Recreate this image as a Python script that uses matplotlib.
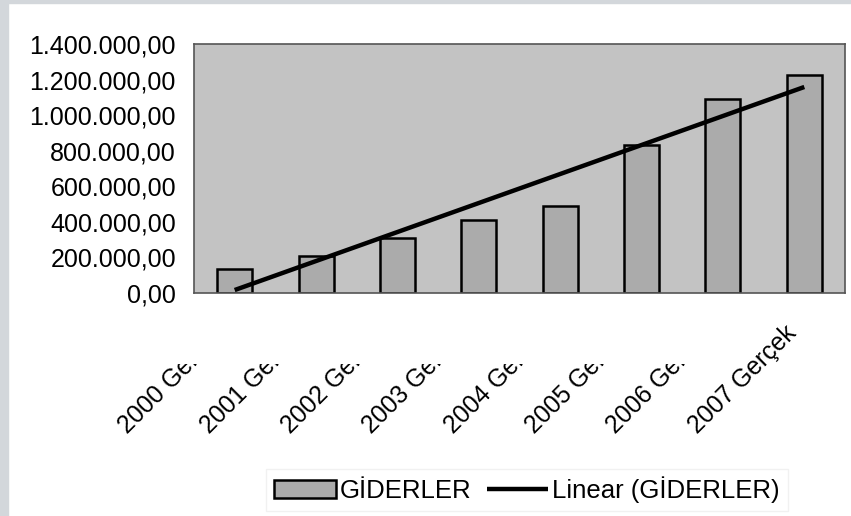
import matplotlib.pyplot as plt
import numpy as np
from matplotlib.patches import Rectangle
from matplotlib.transforms import Bbox, TransformedBbox, ScaledTranslation

plt.rcParams['font.family'] = ['Liberation Sans', 'DejaVu Sans']

categories = ["2000 Gerçek", "2001 Gerçek", "2002 Gerçek", "2003 Gerçek",
              "2004 Gerçek", "2005 Gerçek", "2006 Gerçek", "2007 Gerçek"]
giderler = [135000, 208000, 309000, 410000, 489000, 832000, 1091000, 1226000]
y_ticks = [0, 200000, 400000, 600000, 800000, 1000000, 1200000, 1400000]


def tr_fmt(v):
    s = f"{v:,.2f}"
    return s.replace(",", "X").replace(".", ",").replace("X", ".")


fig = plt.figure(figsize=(8.51, 5.16), dpi=100)
fig.patch.set_facecolor("white")
# light gray frame strip on the left and top edges
fig.add_artist(Rectangle((0, 0), 8 / 851, 1, transform=fig.transFigure,
                         color="#d3d7db", zorder=0))
fig.add_artist(Rectangle((0, 1 - 3 / 516), 1, 3 / 516, transform=fig.transFigure,
                         color="#d3d7db", zorder=0))

ax = fig.add_axes([194 / 851, 1 - 293 / 516, 651 / 851, 249 / 516])
ax.set_facecolor("#c3c3c3")

x = np.arange(len(categories))
bars = ax.bar(x, giderler, width=0.43, color="#ababab", edgecolor="black",
              linewidth=1.8, label="GİDERLER", zorder=2)

# linear trendline (least-squares fit, like the spreadsheet trendline)
coef = np.polyfit(x, giderler, 1)
trend, = ax.plot(x, np.polyval(coef, x), color="black", lw=3.2,
                 label="Linear (GİDERLER)", zorder=3, solid_capstyle="butt")

ax.set_xlim(-0.5, len(categories) - 0.5)
ax.set_ylim(0, 1400000)
ax.set_yticks(y_ticks)
ax.set_yticklabels([tr_fmt(v) for v in y_ticks], fontsize=18)
ax.set_xticks(x)
ax.set_xticklabels(categories, fontsize=17.8, rotation=45, ha="right",
                   va="baseline", rotation_mode="anchor")
ax.tick_params(axis="y", length=0, pad=13)
ax.tick_params(axis="x", length=0, pad=29.5)
for side in ["left", "right", "top", "bottom"]:
    ax.spines[side].set_color("#555555")
    ax.spines[side].set_linewidth(1.2)

# spreadsheet-style truncation: all but the last label are cut off
shift = ScaledTranslation(-7 / 100, 0, fig.dpi_scale_trans)
clip = TransformedBbox(Bbox.from_extents(0, 0, 1, 1 - 364 / 516), fig.transFigure)
labels = ax.get_xticklabels()
for i, lab in enumerate(labels):
    lab.set_transform(lab.get_transform() + shift)
    if i < len(labels) - 1:
        lab.set_clip_box(clip)
        lab.set_clip_on(True)

leg = fig.legend([bars, trend], ["GİDERLER", "Linear (GİDERLER)"],
                 loc="center", bbox_to_anchor=(527 / 851, 1 - 490 / 516),
                 ncol=2, fontsize=18.5, frameon=True, fancybox=False,
                 handlelength=2.4, handletextpad=0.15, columnspacing=0.6,
                 borderpad=0.3)
leg.get_frame().set_edgecolor("#eeeeee")
leg.get_frame().set_linewidth(1.0)

fig.savefig("out.png", dpi=100)
